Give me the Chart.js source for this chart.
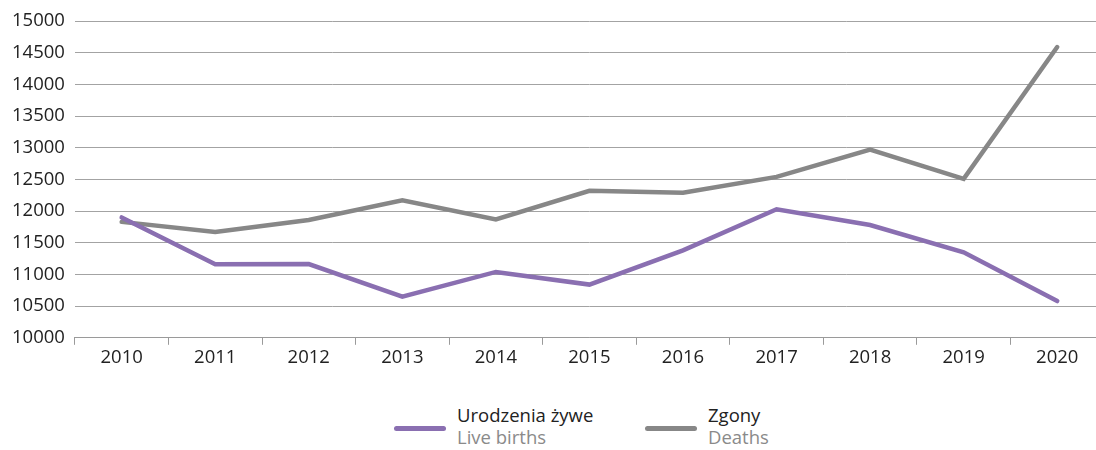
<!DOCTYPE html>
<html lang="pl">
<head>
<meta charset="utf-8">
<script src="https://cdn.jsdelivr.net/npm/chart.js@4/dist/chart.umd.min.js"></script>
<style>
  html, body { margin: 0; background: #fff; font-family: "Open Sans", sans-serif; overflow: hidden; width: 1096px; height: 450px; }
  #wykres { position: absolute; left: 0; top: 0; width: 1104px; height: 371px; }
  .legenda { position: absolute; top: 404px; display: flex; align-items: flex-start; }
  .legenda .kreska { width: 52px; height: 5px; border-radius: 3px; margin-top: 22px; margin-right: 11px; }
  .legenda .pl { font-size: 18.5px; color: #222; line-height: 22px; }
  .legenda .en { font-size: 18.5px; color: #8a8a8a; line-height: 22px; }
</style>
</head>
<body>
<div id="wykres"><canvas id="miGrafico"></canvas></div>
<div class="legenda" style="left:394px">
  <div class="kreska" style="background:#8a6fb1"></div>
  <div><div class="pl">Urodzenia żywe</div><div class="en">Live births</div></div>
</div>
<div class="legenda" style="left:645px">
  <div class="kreska" style="background:#878787"></div>
  <div><div class="pl">Zgony</div><div class="en">Deaths</div></div>
</div>
<script>
// Lata i wartości serii
var lata = ["2010", "2011", "2012", "2013", "2014", "2015", "2016", "2017", "2018", "2019", "2020"];
var urodzenia = [11900, 11160, 11165, 10650, 11040, 10840, 11380, 12030, 11780, 11350, 10580];
var zgony = [11830, 11670, 11860, 12170, 11870, 12320, 12290, 12540, 12970, 12510, 14590];

var fuente = { family: "'Open Sans', sans-serif", size: 18.5 };

var contexto = document.getElementById('miGrafico').getContext('2d');
var miGrafico = new Chart(contexto, {
    type: 'line',
    data: {
        labels: lata,
        datasets: [{
            label: 'Urodzenia żywe',
            data: urodzenia,
            borderColor: '#8a6fb1',
            borderWidth: 4.5,
            pointRadius: 0,
            tension: 0,
            borderCapStyle: 'round'
        }, {
            label: 'Zgony',
            data: zgony,
            borderColor: '#878787',
            borderWidth: 4.5,
            pointRadius: 0,
            tension: 0,
            borderCapStyle: 'round'
        }]
    },
    options: {
        responsive: true,
        maintainAspectRatio: false,
        animation: false,
        layout: { padding: { top: 7, left: 2, right: 0, bottom: 0 } },
        plugins: { legend: { display: false }, tooltip: { enabled: false } },
        scales: {
            x: {
                offset: true,
                grid: { offset: true, drawOnChartArea: false, tickLength: 7, color: '#9a9a9a' },
                border: { color: '#9a9a9a' },
                ticks: { color: '#222', font: fuente, padding: 2 }
            },
            y: {
                min: 10000,
                max: 15000,
                ticks: {
                    stepSize: 500, color: '#222', font: fuente, padding: 10,
                    callback: function(valor) { return String(valor); }
                },
                grid: { color: '#a3a3a3', drawTicks: false },
                border: { display: false }
            }
        }
    }
});
</script>
</body>
</html>
